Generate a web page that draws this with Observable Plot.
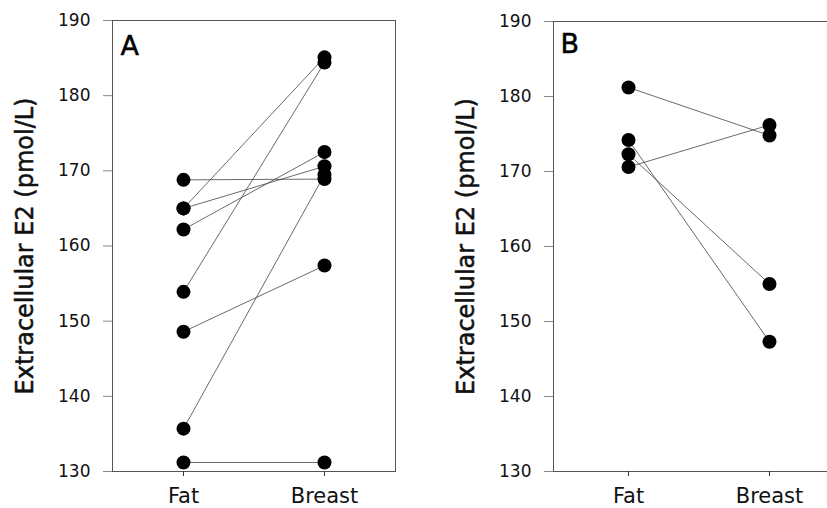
<!DOCTYPE html>
<html>
<head>
<meta charset="utf-8">
<script src="https://cdn.jsdelivr.net/npm/d3@7"></script>
<script src="https://cdn.jsdelivr.net/npm/@observablehq/plot@0.6"></script>
<style>
  html, body { margin: 0; padding: 0; background: #fff; }
  #wrap { position: relative; width: 827px; height: 508px; overflow: hidden; background: #fff; }
  #wrap > div, #wrap > svg { position: absolute; top: 0; }
</style>
</head>
<body>
<div id="wrap"></div>
<script>
const categories = ["Fat", "Breast"];
const yTicks = [130, 140, 150, 160, 170, 180, 190];
const yLabel = "Extracellular E2 (pmol/L)";

// Panel A: paired values (Fat -> Breast)
const fatA    = [168.8, 165.0, 165.0, 162.2, 153.9, 148.6, 135.7, 131.2];
const breastA = [168.9, 185.1, 170.6, 172.5, 184.4, 157.4, 169.5, 131.2];

// Panel B: paired values (Fat -> Breast)
const fatB    = [181.2, 174.2, 172.3, 170.6];
const breastB = [174.8, 147.3, 155.0, 176.2];

function rows(fat, breast) {
  const out = [];
  fat.forEach((v, i) => {
    out.push({pair: i, group: categories[0], value: v});
    out.push({pair: i, group: categories[1], value: breast[i]});
  });
  return out;
}

function panel(data, letter, opts) {
  return Plot.plot({
    width: opts.width,
    height: 508,
    marginLeft: 112,
    marginRight: 0,
    marginTop: opts.marginTop,
    marginBottom: 508 - 471,
    style: {fontFamily: "DejaVu Sans", background: "transparent", overflow: "visible"},
    x: {type: "point", domain: categories, padding: opts.padding, label: null},
    y: {domain: [130, 190], label: null},
    marks: [
      Plot.frame({stroke: "#555", strokeWidth: 1}),
      Plot.axisY({ticks: yTicks, tickSize: 9, tickPadding: 13, fontSize: 17, stroke: "#888", fill: "#111", label: null}),
      Plot.axisX({tickSize: 5, tickPadding: 12, fontSize: 21, stroke: "#333", fill: "#111", label: null}),
      Plot.text([yLabel], {frameAnchor: "left", rotate: -90, dx: -80, fontSize: 24, lineAnchor: "bottom", textAnchor: "middle", fill: "#111", stroke: "#111", strokeWidth: 0.5}),
      Plot.text([letter], {frameAnchor: "top-left", dx: opts.ldx, dy: opts.ldy, fontSize: 27, textAnchor: "start", lineAnchor: "top", fill: "#000", stroke: "#000", strokeWidth: 0.5}),
      Plot.line(data, {x: "group", y: "value", z: "pair", stroke: "#444", strokeWidth: 0.8}),
      Plot.dot(data, {x: "group", y: "value", r: 7, fill: "#000", stroke: "none"})
    ]
  });
}

const wrap = document.getElementById("wrap");
const a = panel(rows(fatA, breastA), "A", {width: 395, padding: 0.5, marginTop: 20, ldx: 8, ldy: 15});
a.style.left = "0px";
wrap.appendChild(a);
const b = panel(rows(fatB, breastB), "B", {width: 403, padding: 0.53, marginTop: 21, ldx: 7, ldy: 12});
b.style.left = "441px";
wrap.appendChild(b);
</script>
</body>
</html>
